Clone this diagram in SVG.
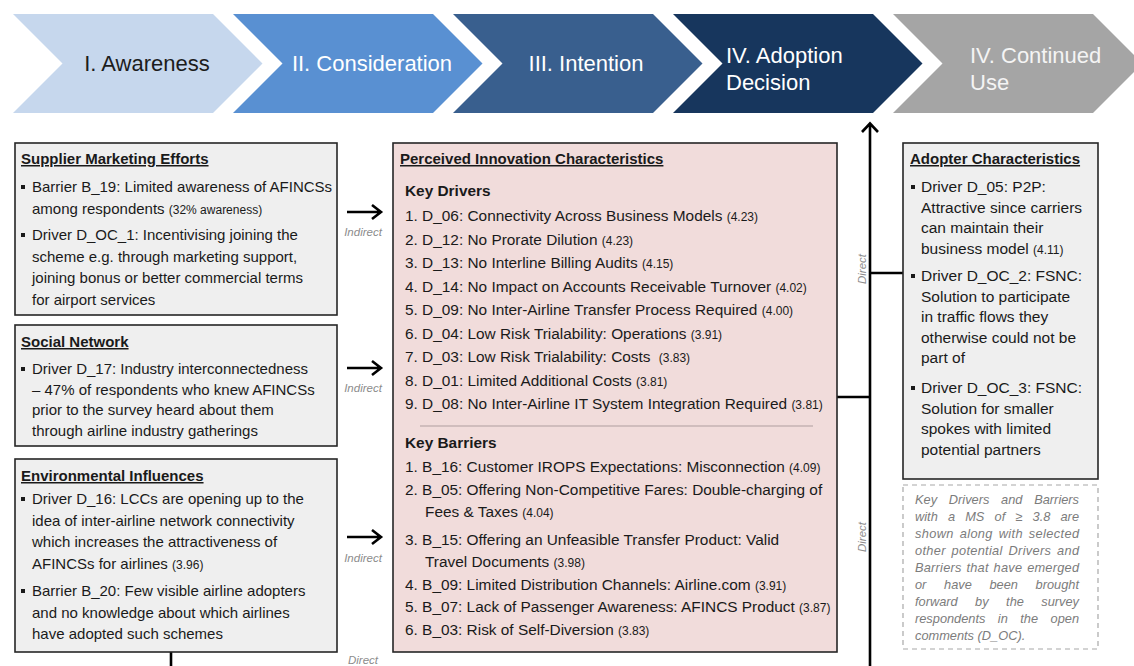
<svg xmlns="http://www.w3.org/2000/svg" width="1134" height="666" viewBox="0 0 1134 666">
<style>
text { font-family: "Liberation Sans", Arial, sans-serif; fill: #1a1a1a; }
.chev { font-size: 22px; fill: #ffffff; }
.chev1 { font-size: 22px; fill: #1c1c1c; }
.chev5 { font-size: 22px; fill: #f4f4f4; }
.h { font-weight: bold; text-decoration: underline; font-size: 15px; }
.kh { font-weight: bold; font-size: 15.4px; }
.l { font-size: 15px; }
.c { font-size: 15.4px; }
.r { font-size: 15.5px; }
.sc { font-size: 12px; }
.lbl { font-style: italic; font-size: 11.5px; fill: #8c8c8c; }
.note { font-style: italic; font-size: 12.8px; fill: #7c7c7c; }
.box { fill: #efefef; stroke: #262626; stroke-width: 1.6; }
.pic { fill: #f1dcdb; stroke: #262626; stroke-width: 1.6; }
.dash { fill: #ffffff; stroke: #a8a8a8; stroke-width: 1.2; stroke-dasharray: 5 4; }
.conn { stroke: #000000; stroke-width: 2.6; fill: none; }
.bul { fill: #1a1a1a; }
</style>

<g id="stages">
  <g id="stage-awareness">
    <polygon points="13,14 213,14 262.5,63.5 213,113 13,113 62.5,63.5" fill="#c6d7ed"/>
    <text class="chev1" x="147" y="71" text-anchor="middle">I. Awareness</text>
  </g>
  <g id="stage-consideration">
    <polygon points="233,14 433,14 482.5,63.5 433,113 233,113 282.5,63.5" fill="#5990d2"/>
    <text class="chev" x="372" y="71" text-anchor="middle">II. Consideration</text>
  </g>
  <g id="stage-intention">
    <polygon points="453,14 653,14 702.5,63.5 653,113 453,113 502.5,63.5" fill="#395f8e"/>
    <text class="chev" x="586" y="71" text-anchor="middle">III. Intention</text>
  </g>
  <g id="stage-adoption">
    <polygon points="673,14 873,14 922.5,63.5 873,113 673,113 722.5,63.5" fill="#17365d"/>
    <text class="chev" x="726" y="63">IV. Adoption</text>
    <text class="chev" x="726" y="90">Decision</text>
  </g>
  <g id="stage-continued">
    <polygon points="893,14 1093,14 1142.5,63.5 1093,113 893,113 942.5,63.5" fill="#a5a5a5"/>
    <text class="chev5" x="970" y="63">IV. Continued</text>
    <text class="chev5" x="970" y="90">Use</text>
  </g>
</g>

<g id="connectors">
  <path class="conn" d="M347,212 H380 M372,205 L381,212 L372,219"/>
  <path class="conn" d="M347,368 H380 M372,361 L381,368 L372,375"/>
  <path class="conn" d="M347,537 H380 M372,530 L381,537 L372,544"/>
  <path class="conn" d="M870,666 V124 M862,132 L870,123.5 L878,132"/>
  <path class="conn" d="M837,397 H870"/>
  <path class="conn" d="M903,273 H870"/>
  <path class="conn" d="M171,652 V666"/>
  <text class="lbl" x="363" y="236" text-anchor="middle">Indirect</text>
  <text class="lbl" x="363" y="392" text-anchor="middle">Indirect</text>
  <text class="lbl" x="363" y="562" text-anchor="middle">Indirect</text>
  <text class="lbl" x="363" y="664" text-anchor="middle">Direct</text>
  <text class="lbl" transform="translate(866,269) rotate(-90)" text-anchor="middle">Direct</text>
  <text class="lbl" transform="translate(866,537) rotate(-90)" text-anchor="middle">Direct</text>
</g>

<g id="supplier-marketing">
  <rect class="box" x="15" y="143" width="322" height="172"/>
  <text class="h" x="21" y="164">Supplier Marketing Efforts</text>
  <rect class="bul" x="21" y="185" width="4" height="4"/>
  <text class="l" x="32" y="192">Barrier B_19: Limited awareness of AFINCSs</text>
  <text class="l" x="32" y="213.5">among respondents <tspan class="sc">(32% awareness)</tspan></text>
  <rect class="bul" x="21" y="233" width="4" height="4"/>
  <text class="l" x="32" y="240">Driver D_OC_1: Incentivising joining the</text>
  <text class="l" x="32" y="261.5">scheme e.g. through marketing support,</text>
  <text class="l" x="32" y="283">joining bonus or better commercial terms</text>
  <text class="l" x="32" y="304.5">for airport services</text>
</g>

<g id="social-network">
  <rect class="box" x="15" y="325" width="322" height="121"/>
  <text class="h" x="21" y="347">Social Network</text>
  <rect class="bul" x="21" y="367" width="4" height="4"/>
  <text class="l" x="32" y="374">Driver D_17: Industry interconnectedness</text>
  <text class="l" x="32" y="394.5">– 47% of respondents who knew AFINCSs</text>
  <text class="l" x="32" y="415">prior to the survey heard about them</text>
  <text class="l" x="32" y="435.5">through airline industry gatherings</text>
</g>

<g id="environmental-influences">
  <rect class="box" x="15" y="459" width="322" height="193"/>
  <text class="h" x="21" y="481">Environmental Influences</text>
  <rect class="bul" x="21" y="497" width="4" height="4"/>
  <text class="l" x="32" y="504">Driver D_16: LCCs are opening up to the</text>
  <text class="l" x="32" y="525.5">idea of inter-airline network connectivity</text>
  <text class="l" x="32" y="547">which increases the attractiveness of</text>
  <text class="l" x="32" y="568.5">AFINCSs for airlines <tspan class="sc">(3.96)</tspan></text>
  <rect class="bul" x="21" y="589" width="4" height="4"/>
  <text class="l" x="32" y="596">Barrier B_20: Few visible airline adopters</text>
  <text class="l" x="32" y="617.5">and no knowledge about which airlines</text>
  <text class="l" x="32" y="639">have adopted such schemes</text>
</g>

<g id="perceived-innovation">
  <rect class="pic" x="393" y="143" width="444" height="509"/>
  <text class="h" x="400" y="164">Perceived Innovation Characteristics</text>
  <text class="kh" x="405" y="196">Key Drivers</text>
  <text class="c" x="405" y="221">1. D_06: Connectivity Across Business Models <tspan class="sc">(4.23)</tspan></text>
  <text class="c" x="405" y="244.5">2. D_12: No Prorate Dilution <tspan class="sc">(4.23)</tspan></text>
  <text class="c" x="405" y="268">3. D_13: No Interline Billing Audits <tspan class="sc">(4.15)</tspan></text>
  <text class="c" x="405" y="291.5">4. D_14: No Impact on Accounts Receivable Turnover <tspan class="sc">(4.02)</tspan></text>
  <text class="c" x="405" y="315">5. D_09: No Inter-Airline Transfer Process Required <tspan class="sc">(4.00)</tspan></text>
  <text class="c" x="405" y="338.5">6. D_04: Low Risk Trialability: Operations <tspan class="sc">(3.91)</tspan></text>
  <text class="c" x="405" y="362">7. D_03: Low Risk Trialability: Costs <tspan class="sc" dx="4">(3.83)</tspan></text>
  <text class="c" x="405" y="385.5">8. D_01: Limited Additional Costs <tspan class="sc">(3.81)</tspan></text>
  <text class="c" x="405" y="409">9. D_08: No Inter-Airline IT System Integration Required <tspan class="sc">(3.81)</tspan></text>
  <line x1="420" y1="426" x2="813" y2="426" stroke="#c4b3b3" stroke-width="1.5"/>
  <text class="kh" x="405" y="448">Key Barriers</text>
  <text class="c" x="405" y="472">1. B_16: Customer IROPS Expectations: Misconnection <tspan class="sc">(4.09)</tspan></text>
  <text class="c" x="405" y="495">2. B_05: Offering Non-Competitive Fares: Double-charging of</text>
  <text class="c" x="425" y="517">Fees &amp; Taxes <tspan class="sc">(4.04)</tspan></text>
  <text class="c" x="405" y="545">3. B_15: Offering an Unfeasible Transfer Product: Valid</text>
  <text class="c" x="425" y="567">Travel Documents <tspan class="sc">(3.98)</tspan></text>
  <text class="c" x="405" y="589.5">4. B_09: Limited Distribution Channels: Airline.com <tspan class="sc">(3.91)</tspan></text>
  <text class="c" x="405" y="612">5. B_07: Lack of Passenger Awareness: AFINCS Product <tspan class="sc">(3.87)</tspan></text>
  <text class="c" x="405" y="635">6. B_03: Risk of Self-Diversion <tspan class="sc">(3.83)</tspan></text>
</g>

<g id="adopter-characteristics">
  <rect class="box" x="903" y="143" width="195" height="336"/>
  <text class="h" x="910" y="164">Adopter Characteristics</text>
  <rect class="bul" x="911" y="185" width="4" height="4"/>
  <text class="r" x="921" y="192">Driver D_05: P2P:</text>
  <text class="r" x="921" y="212.5">Attractive since carriers</text>
  <text class="r" x="921" y="233">can maintain their</text>
  <text class="r" x="921" y="253.5">business model <tspan class="sc">(4.11)</tspan></text>
  <rect class="bul" x="911" y="274" width="4" height="4"/>
  <text class="r" x="921" y="281">Driver D_OC_2: FSNC:</text>
  <text class="r" x="921" y="301.5">Solution to participate</text>
  <text class="r" x="921" y="322">in traffic flows they</text>
  <text class="r" x="921" y="342.5">otherwise could not be</text>
  <text class="r" x="921" y="363">part of</text>
  <rect class="bul" x="911" y="386" width="4" height="4"/>
  <text class="r" x="921" y="393">Driver D_OC_3: FSNC:</text>
  <text class="r" x="921" y="413.5">Solution for smaller</text>
  <text class="r" x="921" y="434">spokes with limited</text>
  <text class="r" x="921" y="454.5">potential partners</text>
</g>

<g id="note">
  <rect class="dash" x="903" y="485" width="195" height="164"/>
  <text class="note" x="915" y="504" word-spacing="8.2" textLength="164" lengthAdjust="spacing">Key Drivers and Barriers</text>
  <text class="note" x="915" y="521" word-spacing="6.6" textLength="164" lengthAdjust="spacing">with a MS of ≥ 3.8 are</text>
  <text class="note" x="915" y="538" word-spacing="2" textLength="164" lengthAdjust="spacing">shown along with selected</text>
  <text class="note" x="915" y="555" word-spacing="2" textLength="164" lengthAdjust="spacing">other potential Drivers and</text>
  <text class="note" x="915" y="572" word-spacing="1.1" textLength="164" lengthAdjust="spacing">Barriers that have emerged</text>
  <text class="note" x="915" y="589" word-spacing="14.1" textLength="164" lengthAdjust="spacing">or have been brought</text>
  <text class="note" x="915" y="606" word-spacing="13.9" textLength="164" lengthAdjust="spacing">forward by the survey</text>
  <text class="note" x="915" y="623" word-spacing="8.9" textLength="164" lengthAdjust="spacing">respondents in the open</text>
  <text class="note" x="915" y="640">comments (D_OC).</text>
</g>
</svg>
